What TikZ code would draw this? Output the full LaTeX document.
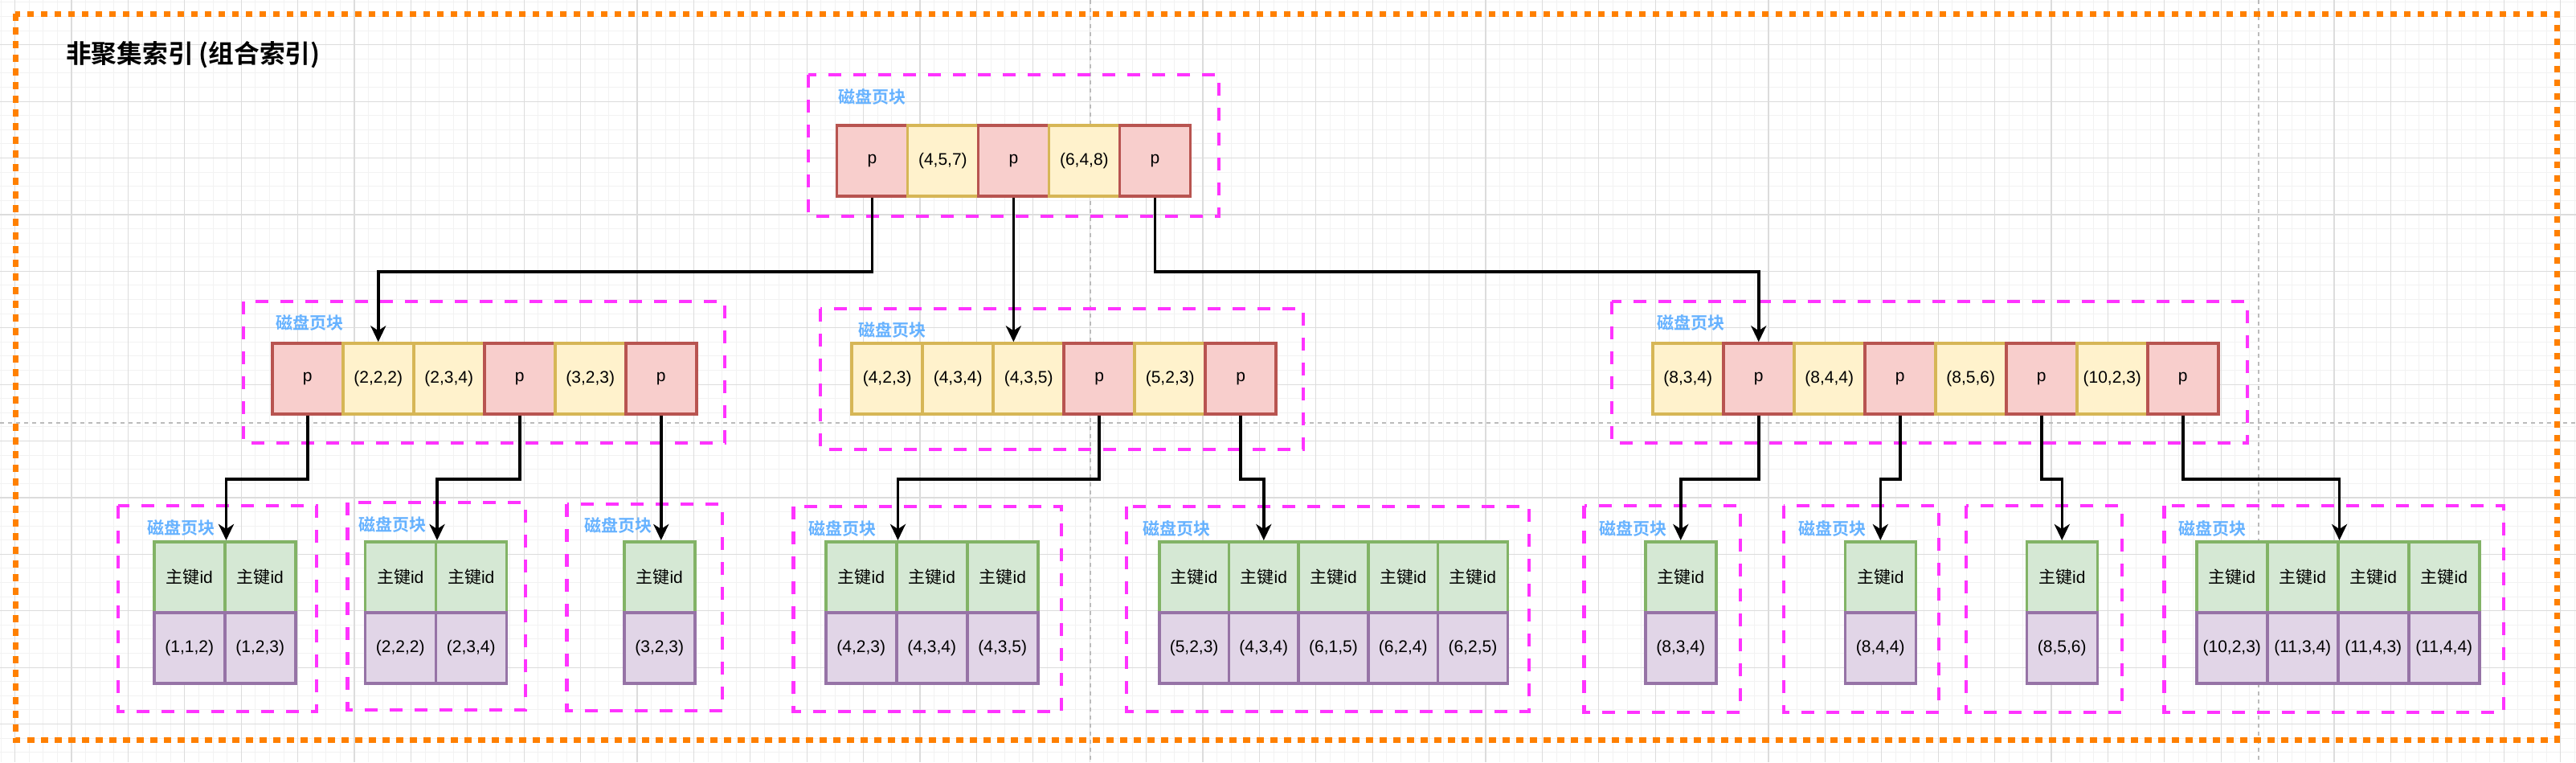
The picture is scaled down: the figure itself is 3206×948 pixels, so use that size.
\documentclass[tikz,border=0pt]{standalone}
\usepackage{fontspec}
\setmainfont{Liberation Sans}
\newfontfamily\cjk{Noto Sans CJK SC}[BoldFont={Noto Sans CJK SC Bold}]
\usetikzlibrary{arrows.meta,positioning}
\definecolor{redf}{HTML}{F8CECC}
\definecolor{redd}{HTML}{B85450}
\definecolor{yelf}{HTML}{FFF2CC}
\definecolor{yeld}{HTML}{D6B656}
\definecolor{grnf}{HTML}{D5E8D4}
\definecolor{grnd}{HTML}{82B366}
\definecolor{purf}{HTML}{E1D5E7}
\definecolor{purd}{HTML}{9673A6}
\definecolor{mag}{HTML}{FF33FF}
\definecolor{lblue}{HTML}{66B2FF}
\definecolor{orng}{HTML}{FF8000}
\definecolor{gmaj}{HTML}{DCDCDC}
\definecolor{gmin}{HTML}{F2F2F2}
\definecolor{pbrk}{HTML}{BBBBBB}
\tikzset{
  cell/.style={draw, line width=3.5pt, minimum width=88pt, minimum height=88pt,
    inner sep=0pt, font=\fontsize{21}{25}\selectfont, anchor=west},
  pc/.style={cell, fill=redf, draw=redd},
  kc/.style={cell, fill=yelf, draw=yeld},
  ic/.style={cell, fill=grnf, draw=grnd},
  vc/.style={cell, fill=purf, draw=purd},
  pagebox/.style={draw=mag, line width=4.7pt, dash pattern=on 16pt off 15pt},
  plabel/.style={font=\cjk\bfseries\fontsize{21}{25}\selectfont, text=lblue, anchor=west, inner sep=0pt},
  arr/.style={draw=black, line width=3.5pt, -{Stealth[length=20pt,width=19pt,inset=6pt]}},
  pbline/.style={draw=pbrk, line width=1.5pt, dash pattern=on 5pt off 5pt},
}
% row of index cells: name, left x, center y, list of style/text
\newcommand\cellrow[4]{%
  \foreach \s/\t [count=\i] in {#4} {
    \node[\s] (#1\i) at ({#2+(\i-1)*88},#3) {\t};
  }%
}
% leaf: name, left x, cell width, list of values
\newcommand\leafrow[4]{%
  \foreach \v [count=\i] in {#4} {
    \node[ic, anchor=north west, minimum width=#3pt] (#1k\i) at ({#2+(\i-1)*#3},672) {{\cjk 主键}id};
    \node[vc, anchor=north west, minimum width=#3pt] (#1v\i) at ({#2+(\i-1)*#3},760) {\v};
  }%
}
\begin{document}
\begin{tikzpicture}[x=1pt,y=-1pt]
\useasboundingbox (0,0) rectangle (3206,948);
\fill[white] (0,0) rectangle (3206,948);
% grid
\foreach \i in {0,...,182} \draw[gmin, line width=1pt] ({1.0+\i*17.6},0) -- ({1.0+\i*17.6},948);
\foreach \i in {0,...,54} \draw[gmin, line width=1pt] (0,{2.9+\i*17.6}) -- (3206,{2.9+\i*17.6});
\foreach \i in {0,...,45} \draw[gmaj, line width=1.2pt] ({18.6+\i*70.4},0) -- ({18.6+\i*70.4},948);
\foreach \i in {0,...,13} \draw[gmaj, line width=1.2pt] (0,{55.7+\i*70.4}) -- (3206,{55.7+\i*70.4});
% page breaks
\draw[pbline] (1357,0) -- (1357,948);
\draw[pbline] (2811,0) -- (2811,948);
\draw[pbline] (0,526) -- (3206,526);
% outer border
\draw[orng, line width=7pt, dash pattern=on 8.5pt off 8.5pt] (19,17) rectangle (3182,920);
\node[font=\cjk\bfseries\fontsize{31.7}{34}\selectfont, anchor=west, inner sep=0pt] (title) at (82,68) {非聚集索引 (组合索引)};
% page boxes
\draw[pagebox] (1006,93) rectangle (1517,269);
\node[plabel] (lt) at (1043.6,120) {磁盘页块};
\draw[pagebox] (303,375) rectangle (902,551);
\node[plabel] (la) at (343,401) {磁盘页块};
\draw[pagebox] (1021,384) rectangle (1622,559);
\node[plabel] (lb) at (1068.6,410) {磁盘页块};
\draw[pagebox] (2006,375) rectangle (2797,551);
\node[plabel] (lc) at (2062,401) {磁盘页块};
\draw[pagebox] (147,629) rectangle (394,885);
\node[plabel] (l1) at (183.6,656) {磁盘页块};
\draw[pagebox] (432.5,625) rectangle (654,883);
\node[plabel] (l2) at (446,652) {磁盘页块};
\draw[pagebox] (705.5,627) rectangle (899,884);
\node[plabel] (l3) at (727,653) {磁盘页块};
\draw[pagebox] (987.6,630) rectangle (1321,885);
\node[plabel] (l4) at (1006,657) {磁盘页块};
\draw[pagebox] (1402,630) rectangle (1903,885);
\node[plabel] (l5) at (1422,657) {磁盘页块};
\draw[pagebox] (1971.6,629) rectangle (2166,886);
\node[plabel] (l6) at (1990,657) {磁盘页块};
\draw[pagebox] (2220,629) rectangle (2413,886);
\node[plabel] (l7) at (2238.5,657) {磁盘页块};
\draw[pagebox] (2447,629) rectangle (2641,886);
\draw[pagebox] (2693.6,629) rectangle (3116,886);
\node[plabel] (l9) at (2711,657) {磁盘页块};
% index rows
\cellrow{T}{1039.6}{200}{pc/p, kc/{(4,5,7)}, pc/p, kc/{(6,4,8)}, pc/p}
\cellrow{A}{337}{471}{pc/p, kc/{(2,2,2)}, kc/{(2,3,4)}, pc/p, kc/{(3,2,3)}, pc/p}
\cellrow{B}{1058.4}{471}{kc/{(4,2,3)}, kc/{(4,3,4)}, kc/{(4,3,5)}, pc/p, kc/{(5,2,3)}, pc/p}
\cellrow{C}{2055}{471}{kc/{(8,3,4)}, pc/p, kc/{(8,4,4)}, pc/p, kc/{(8,5,6)}, pc/p, kc/{(10,2,3)}, pc/p}
% leaves
\leafrow{La}{190}{88}{{(1,1,2)},{(1,2,3)}}
\leafrow{Lb}{452.5}{88}{{(2,2,2)},{(2,3,4)}}
\leafrow{Lc}{775}{88}{{(3,2,3)}}
\leafrow{Ld}{1026}{88}{{(4,2,3)},{(4,3,4)},{(4,3,5)}}
\leafrow{Le}{1441}{86.7}{{(5,2,3)},{(4,3,4)},{(6,1,5)},{(6,2,4)},{(6,2,5)}}
\leafrow{Lf}{2046}{88}{{(8,3,4)}}
\leafrow{Lg}{2294.5}{88}{{(8,4,4)}}
\leafrow{Lh}{2520.5}{88}{{(8,5,6)}}
\leafrow{Li}{2732}{88}{{(10,2,3)},{(11,3,4)},{(11,4,3)},{(11,4,4)}}
% edges
\draw[arr] (T1.south) -- ++(0,92) -| (A2.north);
\draw[arr] (T3.south) -- (T3.south |- B3.north);
\draw[arr] (T5.south) -- ++(0,92) -| (C2.north);
\draw[arr] (A1.south) -- ++(0,79) -| (Lak1.north east);
\draw[arr] (A4.south) -- ++(0,79) -| (Lbk1.north east);
\draw[arr] (A6.south) -- (A6.south |- Lck1.north);
\draw[arr] (B4.south) -- ++(0,79) -| (Ldk1.north east);
\draw[arr] (B6.south) -- ++(0,79) -| (Lek2.north);
\draw[arr] (C2.south) -- ++(0,79) -| (Lfk1.north);
\draw[arr] (C4.south) -- ++(0,79) -| (Lgk1.north);
\draw[arr] (C6.south) -- ++(0,79) -| (Lhk1.north);
\draw[arr] (C8.south) -- ++(0,79) -| (Lik2.north east);
\end{tikzpicture}
\end{document}
